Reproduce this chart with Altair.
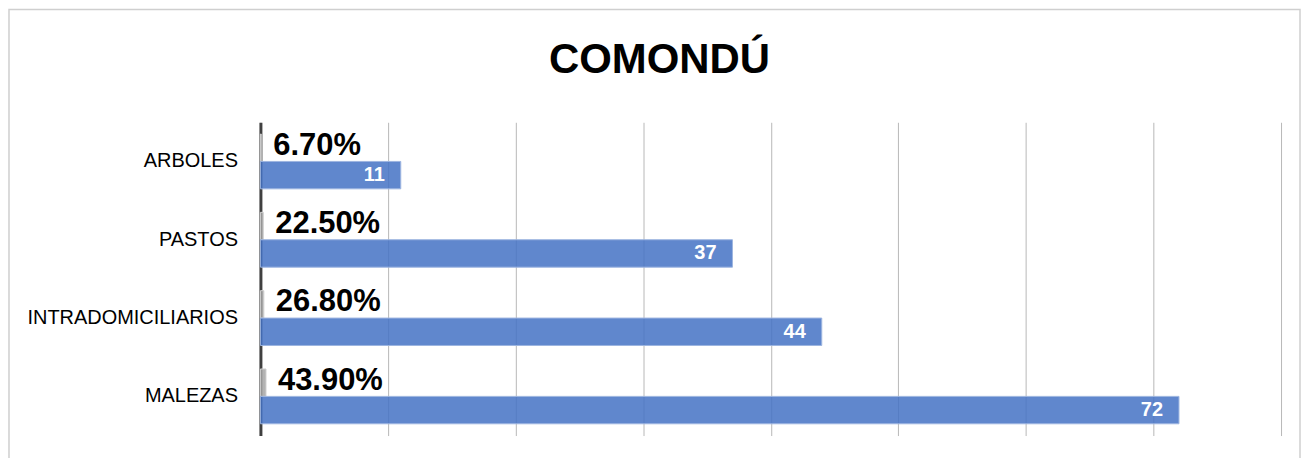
import altair as alt
import pandas as pd

categories = ["ARBOLES", "PASTOS", "INTRADOMICILIARIOS", "MALEZAS"]
counts = [11, 37, 44, 72]
pcts = [0.067, 0.225, 0.268, 0.439]
pct_labels = ["6.70%", "22.50%", "26.80%", "43.90%"]
series = ["pct", "count"]
title_text = "COMONDÚ"

rows = []
for c, n, p, pl in zip(categories, counts, pcts, pct_labels):
    rows.append({"category": c, "series": "pct", "value": p, "label": pl})
    rows.append({"category": c, "series": "count", "value": n, "label": str(n)})
df = pd.DataFrame(rows)

FONT = "Liberation Sans"

y_enc = alt.Y("category:N", sort=categories,
              scale=alt.Scale(paddingInner=0.3, paddingOuter=0.15),
              axis=alt.Axis(title=None, labelFontSize=20, labelFont=FONT,
                            labelColor="#000000", ticks=False, labelPadding=23,
                            labelLimit=400,
                            domainColor="#404040", domainWidth=3))
yoff = alt.YOffset("series:N", sort=series,
                   scale=alt.Scale(domain=series, paddingInner=0, paddingOuter=0))
x_enc = alt.X("value:Q", scale=alt.Scale(domain=[0, 80], nice=False),
              axis=alt.Axis(title=None, labels=False, ticks=False, domain=False,
                            values=list(range(0, 81, 10)),
                            gridColor="#B8B8B8", gridWidth=1))

base = alt.Chart(df)

bars = base.mark_bar(fillOpacity=0.85, strokeWidth=1).encode(
    x=x_enc, y=y_enc, yOffset=yoff,
    color=alt.Color("series:N", scale=alt.Scale(domain=series, range=["#A5A5A5", "#4472C4"]),
                    legend=None),
    stroke=alt.Stroke("series:N", scale=alt.Scale(domain=series, range=["#D0D0D0", "#9DB5E0"]),
                      legend=None),
)

count_text = base.transform_filter(alt.datum.series == "count").mark_text(
    align="right", baseline="middle", dx=-16, fontSize=20, fontWeight="bold",
    font=FONT, color="white"
).encode(x="value:Q", y=alt.Y("category:N", sort=categories), yOffset=yoff, text="label:N")

pct_text = base.transform_filter(alt.datum.series == "pct").mark_text(
    align="left", baseline="middle", dx=12, dy=-2, fontSize=31, fontWeight="bold",
    font=FONT, color="black"
).encode(x="value:Q", y=alt.Y("category:N", sort=categories), yOffset=yoff, text="label:N")

border = alt.Chart(pd.DataFrame({"a": [0]})).mark_rect(
    fill="transparent", stroke="#CFCFCF", strokeWidth=1.5
).encode(x=alt.value(-252), x2=alt.value(1042), y=alt.value(-113), y2=alt.value(345))

title = alt.Chart(pd.DataFrame({"t": [title_text]})).mark_text(
    align="center", baseline="alphabetic", fontSize=42, font=FONT, fontWeight="bold",
    color="black"
).encode(x=alt.value(400), y=alt.value(-49), text="t:N")

chart = alt.layer(border, title, bars, count_text, pct_text).properties(
    width=1023, height=314, padding=0,
).configure_view(stroke=None)

chart.save("out.html", embed_options={"renderer": "svg", "actions": False})
